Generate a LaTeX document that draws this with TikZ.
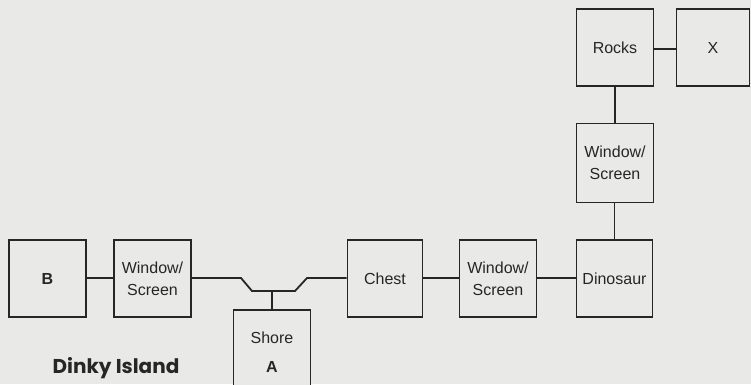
\documentclass[tikz,border=0pt]{standalone}
\usepackage{fontspec}
\setmainfont{Liberation Sans}
\newfontfamily\titlefont{Poppins}
\definecolor{bgcol}{HTML}{E9E9E7}
\definecolor{inkcol}{HTML}{262626}
\begin{document}
\begin{tikzpicture}[x=1pt,y=-1pt,
  room/.style={draw=inkcol, line width=1.8pt, fill=bgcol, minimum width=77pt, minimum height=77pt,
    inner sep=0pt, align=center, text=inkcol, font=\fontsize{16}{22}\selectfont},
  link/.style={draw=inkcol, line width=1.8pt}]
\fill[bgcol] (0,0) rectangle (751,384);
\useasboundingbox (0,0) rectangle (751,384);
\clip (0,0) rectangle (751,384);
\node[room] (b) at (47.5,278.5) {\textbf{B}};
\node[room] (w1) at (152.5,278.5) {Window/\\Screen};
\node[room, minimum width=75pt] (chest) at (385,278.5) {Chest};
\node[room] (w2) at (498,278.5) {Window/\\Screen};
\node[room, minimum width=76pt] (dino) at (614.5,278.5) {Dinosaur};
\node[room, minimum height=79pt] (w3) at (615,163) {Window/\\Screen};
\node[room] (rocks) at (615,47.5) {Rocks};
\node[room, minimum width=73pt] (x) at (713,47.5) {X};
\node[room, minimum height=82pt, anchor=north] (shore) at (272,309) {};
\node[text=inkcol, font=\fontsize{16}{29}\selectfont, align=center] (shoretext) at (272,352) {Shore\\\textbf{A}};
\coordinate (j1) at (241,278);
\coordinate (j2) at (252,291);
\coordinate (jm) at (272,291);
\coordinate (j3) at (295,291);
\coordinate (j4) at (307,278);
\draw[link] (b.east |- 0,278) -- (w1.west |- 0,278);
\draw[link] (w1.east |- j1) -- (j1) -- (j2) -- (j3) -- (j4) -- (chest.west |- j4);
\draw[link] (jm) -- (shore.north);
\draw[link] (chest.east |- 0,278) -- (w2.west |- 0,278);
\draw[link] (w2.east |- 0,278) -- (dino.west |- 0,278);
\draw[link] (dino.north) -- (dino.north |- w3.south);
\draw[link] (w3.north) -- (w3.north |- rocks.south);
\draw[link] (rocks.east |- 0,49) -- (x.west |- 0,49);
\node[text=inkcol, font=\titlefont\bfseries\fontsize{20}{22}\selectfont] (title) at (116,368) {Dinky Island};
\end{tikzpicture}
\end{document}
